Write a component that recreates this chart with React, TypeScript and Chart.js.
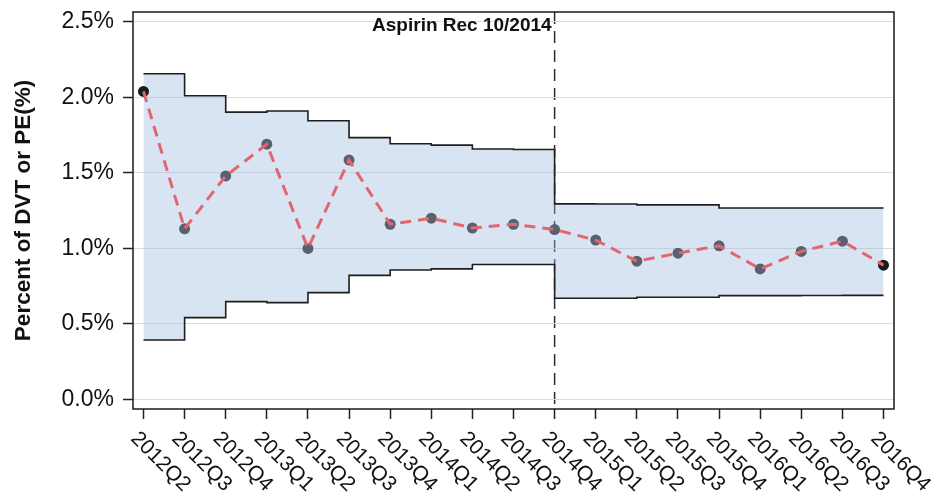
import React, { useEffect, useRef } from 'react';
import { Chart, registerables } from 'chart.js';

Chart.register(...registerables);

const quarters = [
  '2012Q2', '2012Q3', '2012Q4', '2013Q1', '2013Q2', '2013Q3', '2013Q4',
  '2014Q1', '2014Q2', '2014Q3', '2014Q4', '2015Q1', '2015Q2', '2015Q3',
  '2015Q4', '2016Q1', '2016Q2', '2016Q3', '2016Q4',
];
const rates = [
  2.04, 1.13, 1.48, 1.69, 1.0, 1.585, 1.16, 1.2, 1.135, 1.16,
  1.125, 1.055, 0.915, 0.968, 1.017, 0.864, 0.98, 1.048, 0.889,
];
const upperLimit = [
  2.157, 2.011, 1.903, 1.91, 1.846, 1.734, 1.693, 1.684, 1.658, 1.655,
  1.295, 1.294, 1.288, 1.288, 1.268, 1.268, 1.268, 1.268, 1.268,
];
const lowerLimit = [
  0.393, 0.541, 0.647, 0.641, 0.707, 0.821, 0.857, 0.864, 0.893, 0.893,
  0.67, 0.67, 0.676, 0.676, 0.687, 0.687, 0.688, 0.689, 0.689,
];
const yTicks = [0, 0.5, 1, 1.5, 2, 2.5];
const eventIndex = 10;
const eventLabel = 'Aspirin Rec 10/2014';
const yTitle = 'Percent of DVT or PE(%)';

const FONT = "'Liberation Sans', Arial, Helvetica, sans-serif";

export default function App() {
  const ref = useRef<HTMLCanvasElement>(null);

  useEffect(() => {
    const canvas = ref.current;
    if (!canvas) return;
    const pts = (arr: number[]) => arr.map((v, i) => ({ x: i, y: v }));

    const decorations = {
      id: 'decorations',
      beforeDraw(chart: any) {
        const { ctx, chartArea, scales } = chart;
        const x = scales.x.getPixelForValue(eventIndex);
        ctx.save();
        ctx.strokeStyle = '#2a2a2a';
        ctx.lineWidth = 1.5;
        ctx.setLineDash([12, 7]);
        ctx.beginPath();
        ctx.moveTo(x, chartArea.top);
        ctx.lineTo(x, chartArea.bottom);
        ctx.stroke();
        ctx.restore();
      },
      afterDraw(chart: any) {
        const { ctx, chartArea, scales } = chart;
        ctx.save();
        // frame
        ctx.strokeStyle = '#1a1a1a';
        ctx.lineWidth = 1.5;
        ctx.strokeRect(chartArea.left, chartArea.top, chartArea.right - chartArea.left, chartArea.bottom - chartArea.top);
        // event label
        const ex = scales.x.getPixelForValue(eventIndex);
        ctx.fillStyle = '#111';
        ctx.font = `bold 19px ${FONT}`;
        ctx.textAlign = 'right';
        ctx.textBaseline = 'alphabetic';
        ctx.fillText(eventLabel, ex - 3, chartArea.top + 19);
        // x tick labels rotated
        ctx.font = `21px ${FONT}`;
        ctx.textAlign = 'left';
        quarters.forEach((q, i) => {
          const px = scales.x.getPixelForValue(i);
          ctx.save();
          ctx.translate(px - 13.5, chartArea.bottom + 30.5);
          ctx.rotate(Math.PI / 4);
          ctx.fillText(q, 0, 0);
          ctx.restore();
        });
        ctx.restore();
      },
    };

    const chart = new Chart(canvas, {
      type: 'line',
      data: {
        datasets: [
          {
            label: 'Rate line',
            data: pts(rates),
            borderColor: '#e0666f',
            borderWidth: 3,
            borderDash: [11, 7],
            pointRadius: 0,
            fill: false,
            tension: 0,
          },
          {
            label: 'Rate',
            data: pts(rates),
            showLine: false,
            pointRadius: 5.5,
            pointBorderWidth: 0,
            pointBackgroundColor: rates.map((_, i) => (i === 0 || i === rates.length - 1 ? '#1c1c1c' : '#58616d')),
            fill: false,
          },
          {
            label: 'Upper limit',
            data: pts(upperLimit),
            stepped: 'before',
            borderColor: '#1e1e1e',
            borderWidth: 1.6,
            pointRadius: 0,
            fill: { target: 3 },
            backgroundColor: 'rgba(160,188,222,0.4)',
          },
          {
            label: 'Lower limit',
            data: pts(lowerLimit),
            stepped: 'before',
            borderColor: '#1e1e1e',
            borderWidth: 1.6,
            pointRadius: 0,
            fill: false,
          },
        ],
      } as any,
      options: {
        animation: false,
        responsive: false,
        maintainAspectRatio: false,
        layout: { padding: { left: 0, top: 12, right: 41, bottom: 76 } },
        plugins: {
          legend: { display: false },
          tooltip: { enabled: false },
          filler: { drawTime: 'beforeDatasetsDraw' },
        } as any,
        scales: {
          x: {
            type: 'linear',
            min: -0.255,
            max: quarters.length - 1 + 0.255,
            border: { display: false },
            grid: {
              display: true,
              drawOnChartArea: false,
              drawTicks: true,
              tickLength: 10,
              tickColor: '#222',
              tickWidth: 1.5,
            },
            ticks: { display: false },
            afterBuildTicks: (scale: any) => {
              scale.ticks = quarters.map((_, i) => ({ value: i }));
            },
            afterFit: (scale: any) => {
              scale.height = 10;
              scale.paddingLeft = 0;
              scale.paddingRight = 0;
            },
          },
          y: {
            type: 'linear',
            min: -0.064,
            max: 2.566,
            border: { display: false },
            grid: {
              color: '#dcdcdc',
              lineWidth: 1,
              drawTicks: true,
              tickLength: 10,
              tickColor: '#222',
              tickWidth: 1.5,
            },
            ticks: {
              padding: 9,
              color: '#111',
              font: { family: FONT, size: 23 },
              callback: (v: any) => Number(v).toFixed(1) + '%',
            },
            afterBuildTicks: (scale: any) => {
              scale.ticks = yTicks.map((v) => ({ value: v }));
            },
            afterFit: (scale: any) => {
              scale.width = 133;
              scale.paddingTop = 0;
              scale.paddingBottom = 0;
            },
            title: {
              display: true,
              text: yTitle,
              color: '#111',
              font: { family: FONT, size: 22.5, weight: 'bold' },
              padding: { top: 10, bottom: 0 },
            },
          },
        },
      } as any,
      plugins: [decorations as any],
    });

    return () => chart.destroy();
  }, []);

  return (
    <div style={{ position: 'absolute', left: 0, top: 0, width: 935, height: 495, background: '#fff' }}>
      <canvas ref={ref} width={935} height={495} style={{ width: 935, height: 495, display: 'block' }} />
    </div>
  );
}
